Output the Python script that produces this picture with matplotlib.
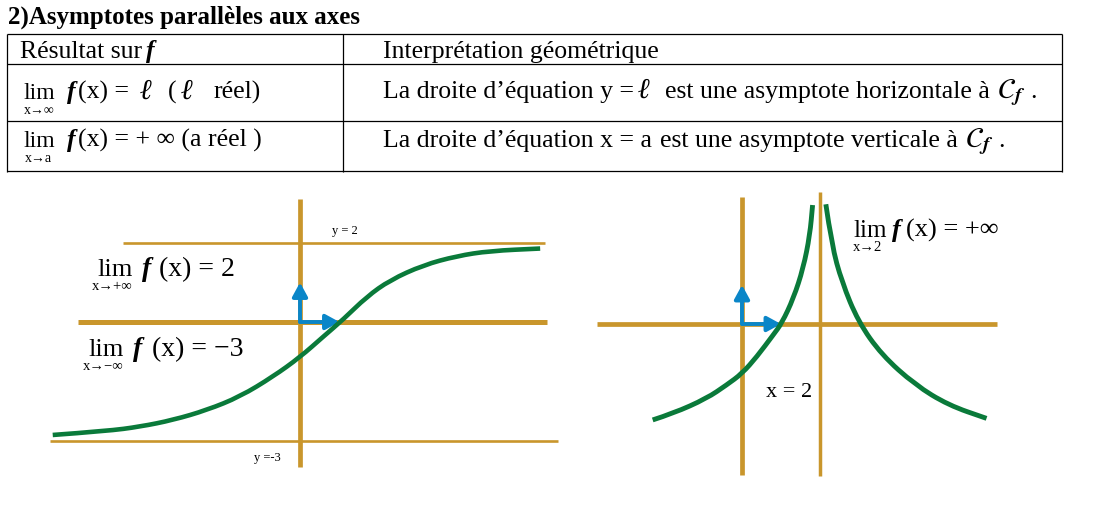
"""Asymptotes parallèles aux axes: summary table plus two sketches."""

import matplotlib

matplotlib.use("Agg")
import matplotlib.pyplot as plt  # noqa: E402
from matplotlib.patches import PathPatch  # noqa: E402
from matplotlib.path import Path  # noqa: E402

W, H = 1102, 507
GOLD = "#C9962C"
GREEN = "#0A7A3A"
BLUE = "#0A86C8"
SERIF = ["Liberation Serif", "DejaVu Serif"]

# left sketch: horizontal asymptotes y = 2 and y = -3
left_x = [-6.26, -4.89, -4.05, -3.21, -2.36, -1.52, -0.68, 0.0,
          0.59, 1.10, 1.69, 2.28, 3.12, 3.97, 4.81, 6.08]
left_y = [-2.86, -2.76, -2.65, -2.48, -2.23, -1.89, -1.38, -0.89,
          -0.37, 0.07, 0.64, 1.06, 1.44, 1.67, 1.80, 1.86]
left_asymptotes = [2, -3]
left_asym_from = [-4.48, -6.33]
left_asym_to = [6.20, 6.53]
left_xaxis = (-5.62, 6.25)
left_yaxis = (-3.67, 3.11)

# right sketch: vertical asymptote x = 2
right_x1 = [-2.29, -1.76, -0.91, -0.39, 0.0, 0.38, 0.80, 1.02, 1.32, 1.57, 1.74, 1.81]
right_y1 = [-2.46, -2.29, -1.91, -1.56, -1.27, -0.84, -0.28, 0.02, 0.66, 1.43, 2.28, 3.05]
right_x2 = [2.15, 2.30, 2.56, 2.98, 3.58, 4.44, 5.29, 6.27]
right_y2 = [3.07, 2.03, 1.08, 0.06, -0.79, -1.56, -2.08, -2.42]
right_asymptote = 2
right_asym_span = (-3.90, 3.38)
right_xaxis = (-3.72, 6.54)
right_yaxis = (-3.87, 3.26)

# table layout (pixels)
TABLE_ROWS = [34, 64, 121, 171]
TABLE_COLS = [7, 343, 1062]


def panel(fig, box, origin, scale):
    x0, y0, x1, y1 = box
    ax = fig.add_axes([x0 / W, 1 - y1 / H, (x1 - x0) / W, (y1 - y0) / H])
    ax.set_xlim((x0 - origin[0]) / scale, (x1 - origin[0]) / scale)
    ax.set_ylim((origin[1] - y1) / scale, (origin[1] - y0) / scale)
    ax.axis("off")
    return ax


def unit_vectors(ax):
    style = dict(arrowstyle="-|>,head_length=0.55,head_width=0.3", color=BLUE,
                 lw=2.8, shrinkA=0, shrinkB=0, mutation_scale=15)
    ax.annotate("", xy=(1, 0), xytext=(0, 0), arrowprops=style, zorder=3)
    ax.annotate("", xy=(0, 1), xytext=(0, 0), arrowprops=style, zorder=3)


def smooth_curve(ax, xs, ys, lw):
    # quadratic bezier through the read points (points act as control points)
    pts = list(zip(xs, ys))
    verts, codes = [pts[0]], [Path.MOVETO]
    for i in range(1, len(pts) - 1):
        mid = ((pts[i][0] + pts[i + 1][0]) / 2, (pts[i][1] + pts[i + 1][1]) / 2)
        verts += [pts[i], mid]
        codes += [Path.CURVE3, Path.CURVE3]
    verts.append(pts[-1])
    codes.append(Path.LINETO)
    ax.add_patch(PathPatch(Path(verts, codes), fill=False, edgecolor=GREEN, lw=lw,
                           capstyle="butt", joinstyle="round", zorder=4))


fig = plt.figure(figsize=(W / 100, H / 100), dpi=100)
page = fig.add_axes([0, 0, 1, 1])
page.set_xlim(0, W)
page.set_ylim(H, 0)
page.axis("off")
renderer = fig.canvas.get_renderer()


def put(x, y, s, size, weight="normal", style="normal", **kw):
    return page.text(x, y, s, fontsize=size, fontweight=weight, fontstyle=style,
                     family=SERIF, va="baseline", ha="left", **kw)


def script_c(x, y):
    return page.text(x, y, r"$\mathcal{C}_{\mathbfit{f}}$", fontsize=21,
                     math_fontfamily="stix", va="baseline", ha="left")


def end_of(t):
    return t.get_window_extent(renderer).x1


# title and table
put(8, 24, "2)Asymptotes parallèles aux axes", 18, weight="bold")
page.hlines(TABLE_ROWS, TABLE_COLS[0], TABLE_COLS[-1], color="black", lw=0.9)
page.vlines(TABLE_COLS, TABLE_ROWS[0], TABLE_ROWS[-1] + 1, color="black", lw=0.9)

put(20, 58, "Résultat sur", 18.5)
put(146, 58, "f", 18.5, weight="bold", style="italic")
put(383, 58, "Interprétation géométrique", 18.5)

put(23, 99, "lim", 17)
put(24, 114, "x→∞", 10)
put(67, 99, "f", 18.5, weight="bold", style="italic")
put(78, 99, "(x) =", 18.5)
put(140, 99, "ℓ", 21, weight="bold", style="italic")
put(168, 99, "(", 18.5)
put(181, 99, "ℓ", 21, weight="bold", style="italic")
put(213, 99, "réel)", 18.5)
put(383, 98, "La droite d’équation y =", 18.5)
put(638, 98, "ℓ", 21, weight="bold", style="italic")
t = put(665, 98, "est une asymptote horizontale à", 18.5)
c = script_c(end_of(t) + 7, 98)
put(end_of(c) + 5, 98, ".", 18.5)

put(23, 147, "lim", 17)
put(25, 162, "x→a", 10)
put(67, 147, "f", 18.5, weight="bold", style="italic")
put(78, 147, "(x) = + ∞ (a réel )", 18.5)
put(383, 147, "La droite d’équation x = a", 18.5)
t = put(660, 147, "est une asymptote verticale à", 18.5)
c = script_c(end_of(t) + 7, 147)
put(end_of(c) + 5, 147, ".", 18.5)

# left sketch
ax1 = panel(fig, (40, 190, 570, 480), (300, 322), 39.5)
ax1.hlines(left_asymptotes, left_asym_from, left_asym_to, color=GOLD, lw=1.9)
ax1.hlines(0, *left_xaxis, color=GOLD, lw=3.6)
ax1.vlines(0, *left_yaxis, color=GOLD, lw=3.4)
unit_vectors(ax1)
smooth_curve(ax1, left_x, left_y, 3.3)

put(332, 234, "y = 2", 9)
put(254, 461, "y =-3", 9)
put(97, 276, "lim", 19)
put(92, 290, "x→+∞", 10.5)
put(142, 276, "f", 20, weight="bold", style="italic")
put(159, 276, "(x) = 2", 20)
put(88, 356, "lim", 19)
put(83, 370, "x→−∞", 10.5)
put(133, 356, "f", 20, weight="bold", style="italic")
put(152, 356, "(x) = −3", 20)

# right sketch
ax2 = panel(fig, (590, 185, 1010, 485), (742, 324), 39)
ax2.hlines(0, *right_xaxis, color=GOLD, lw=3.4)
ax2.vlines(0, *right_yaxis, color=GOLD, lw=3.4)
ax2.vlines(right_asymptote, *right_asym_span, color=GOLD, lw=2.5)
unit_vectors(ax2)
smooth_curve(ax2, right_x1, right_y1, 3.5)
smooth_curve(ax2, right_x2, right_y2, 3.5)

put(853, 237, "lim", 18)
put(853, 251, "x→2", 10.5)
put(892, 237, "f", 19, weight="bold", style="italic")
put(906, 237, "(x) = +∞", 19)
put(766, 397, "x = 2", 16)

fig.savefig("out.png", dpi=100)
